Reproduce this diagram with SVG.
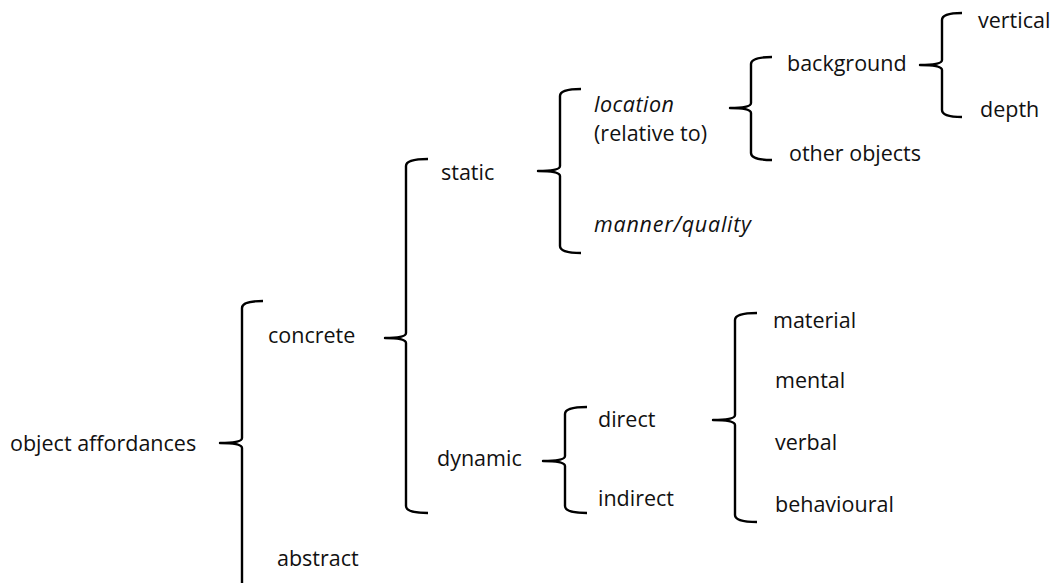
<svg xmlns="http://www.w3.org/2000/svg" width="1053" height="583" viewBox="0 0 1053 583">
<style>
.b{fill:none;stroke:#000;stroke-width:2.4;stroke-linejoin:round}
text{font-family:"Open Sans","Liberation Sans",sans-serif;font-size:21.5px;fill:#111}
.i{font-style:italic}
</style>
<rect width="1053" height="583" fill="#fff"/>
<g id="connectors">
<path class="b" d="M263,301 Q242,301 242,308 L242,438 Q242,443 220,443 Q242,443 242,448 L242,590"/>
<path class="b" d="M428,159 Q406,159 406,166 L406,333 Q406,338 385,338 Q406,338 406,343 L406,506 Q406,513 428,513"/>
<path class="b" d="M581,89 Q560,89 560,96 L560,166 Q560,171 538,171 Q560,171 560,176 L560,246 Q560,253 581,253"/>
<path class="b" d="M772,57 Q751,57 751,64 L751,103 Q751,108 730,108 Q751,108 751,113 L751,153 Q751,160 772,160"/>
<path class="b" d="M962,13 Q942,13 942,20 L942,60 Q942,65 920,65 Q942,65 942,70 L942,110 Q942,117 962,117"/>
<path class="b" d="M587,407 Q565,407 565,414 L565,456 Q565,461 543,461 Q565,461 565,466 L565,506 Q565,513 587,513"/>
<path class="b" d="M757,313 Q735,313 735,320 L735,415 Q735,420 713,420 Q735,420 735,425 L735,515 Q735,522 757,522"/>
</g>
<g id="n-object"><text x="10" y="451">object affordances</text></g>
<g id="n-concrete"><text x="268" y="343">concrete</text></g>
<g id="n-abstract"><text x="277" y="566">abstract</text></g>
<g id="n-static"><text x="441" y="180">static</text></g>
<g id="n-dynamic"><text x="437" y="466">dynamic</text></g>
<g id="n-location"><text x="594" y="112" class="i" textLength="80">location</text><text x="594" y="141">(relative to)</text></g>
<g id="n-manner"><text x="594" y="232" class="i" textLength="157">manner/quality</text></g>
<g id="n-background"><text x="787" y="71">background</text></g>
<g id="n-other"><text x="789" y="161">other objects</text></g>
<g id="n-vertical"><text x="978" y="28">vertical</text></g>
<g id="n-depth"><text x="980" y="117">depth</text></g>
<g id="n-direct"><text x="598" y="427">direct</text></g>
<g id="n-indirect"><text x="598" y="506">indirect</text></g>
<g id="n-material"><text x="773" y="328">material</text></g>
<g id="n-mental"><text x="775" y="388">mental</text></g>
<g id="n-verbal"><text x="775" y="450">verbal</text></g>
<g id="n-behavioural"><text x="775" y="512">behavioural</text></g>
</svg>
